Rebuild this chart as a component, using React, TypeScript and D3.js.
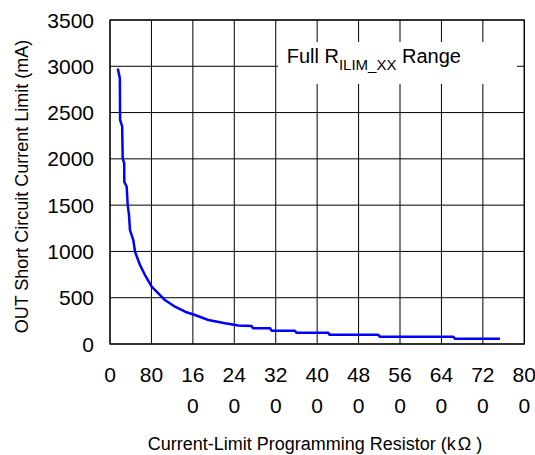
import React from "react";
import * as d3 from "d3";

// Curve: resistor (kΩ) vs short-circuit current limit (mA)
const resistorK = [
  15, 19, 19.5, 23.5, 24.5, 27.5, 27.6, 32.2, 34.2, 36.7, 38.6, 45, 48.3, 57.9, 67.6, 80.5, 93.3,
  106, 125.5, 145, 164, 190, 222, 248, 273.6, 276, 309, 312, 357, 360, 421.5, 424, 518, 521, 663,
  666, 753,
];
const currentMA = [
  2975, 2870, 2420, 2350, 2006, 1952, 1753, 1699, 1501, 1393, 1231, 1123, 997, 853, 745, 619, 547,
  475, 403, 349, 313, 259, 224, 200, 194, 170, 170, 144, 144, 122, 122, 100, 100, 78, 78, 57, 57,
];

const xTicks = [0, 80, 160, 240, 320, 400, 480, 560, 640, 720, 800];
const xTickLabels = ["0", "80", "16\n0", "24\n0", "32\n0", "40\n0", "48\n0", "56\n0", "64\n0", "72\n0", "80\n0"];
const yTicks = [0, 500, 1000, 1500, 2000, 2500, 3000, 3500];
const yTickLabels = ["0", "500", "1000", "1500", "2000", "2500", "3000", "3500"];

const FONT = "Arial, 'Liberation Sans', Helvetica, sans-serif";

export default function App() {
  const W = 535;
  const H = 455;
  const left = 110;
  const right = 524.3;
  const top = 20;
  const bottom = 344;

  const x = d3.scaleLinear().domain([0, 800]).range([left, right]);
  const y = d3.scaleLinear().domain([0, 3500]).range([bottom, top]);

  const pts: [number, number][] = resistorK.map((r, i) => [r, currentMA[i]]);
  const line = d3
    .line<[number, number]>()
    .x((d) => x(d[0]))
    .y((d) => y(d[1]));

  return (
    <svg
      width={W}
      height={H}
      style={{ position: "absolute", left: 0, top: 0, background: "#fff" }}
      fontFamily={FONT}
    >
      <rect x={0} y={0} width={W} height={H} fill="#fff" />
      {/* grid */}
      {xTicks.map((t) => (
        <line key={"vx" + t} x1={x(t)} x2={x(t)} y1={top} y2={bottom} stroke="#000" strokeWidth={1} />
      ))}
      {yTicks.map((t) => (
        <line key={"hy" + t} x1={left} x2={right} y1={y(t)} y2={y(t)} stroke="#000" strokeWidth={1} />
      ))}
      <rect x={left} y={top} width={right - left} height={bottom - top} fill="none" stroke="#000" strokeWidth={1.2} />

      {/* legend box */}
      <rect x={278} y={42} width={239} height={42} fill="#fff" />
      <text x={286.7} y={63.3} fontSize={20} fill="#000">
        Full R
        <tspan fontSize={15} dy={6.7}>ILIM_XX</tspan>
        <tspan dy={-6.7}> Range</tspan>
      </text>

      {/* curve */}
      <path d={line(pts) || ""} fill="none" stroke="#0000ff" strokeWidth={2.5} strokeLinejoin="round" />

      {/* y tick labels */}
      {yTicks.map((t, i) => (
        <text key={"yl" + t} x={94} y={y(t)} dy="0.36em" textAnchor="end" fontSize={21} fill="#000">
          {yTickLabels[i]}
        </text>
      ))}

      {/* x tick labels */}
      {xTicks.map((t, i) =>
        xTickLabels[i].split("\n").map((s, j) => (
          <text key={"xl" + t + "_" + j} x={x(t)} y={381.7 + j * 31} textAnchor="middle" fontSize={21} fill="#000">
            {s}
          </text>
        ))
      )}

      {/* axis titles */}
      <text transform="translate(28,186.5) rotate(-90)" textAnchor="middle" fontSize={18} fill="#000">
        OUT Short Circuit Current Limit (mA)
      </text>
      <text x={315} y={450.3} textAnchor="middle" fontSize={18} fill="#000">
        Current-Limit Programming Resistor (k<tspan dx={2}>Ω</tspan> )
      </text>
    </svg>
  );
}
